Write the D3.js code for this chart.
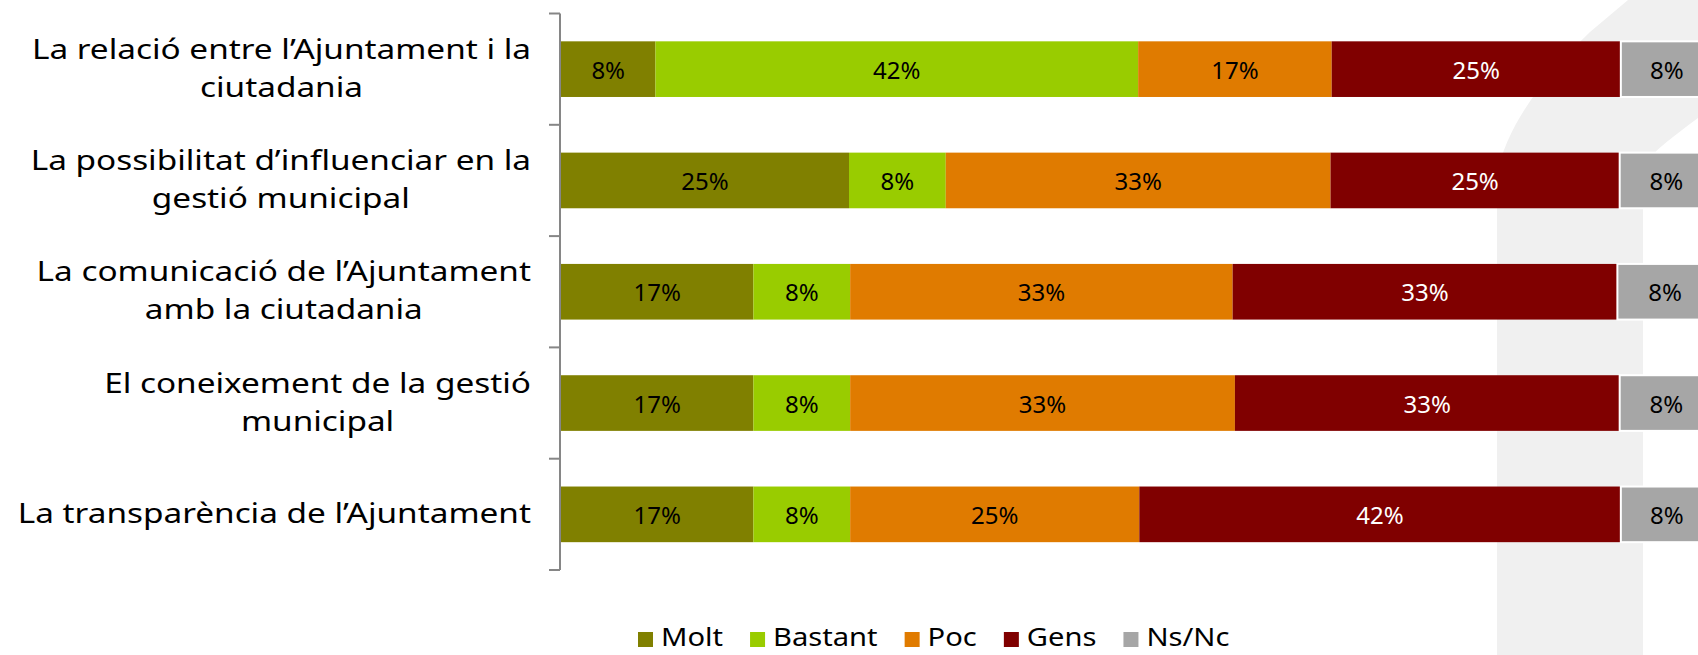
<!DOCTYPE html>
<html>
<head>
<meta charset="utf-8">
<script src="https://cdn.jsdelivr.net/npm/d3@7"></script>
<style>
  html, body { margin: 0; padding: 0; background: #fff; }
  svg { display: block; font-family: "Noto Sans", sans-serif; }
</style>
</head>
<body>
<svg id="chart" width="1698" height="655"></svg>
<script>
// ---- data ----
const categories = [
  "La relació entre l’Ajuntament i la\nciutadania",
  "La possibilitat d’influenciar en la\ngestió municipal",
  "La comunicació de l’Ajuntament\namb la ciutadania",
  "El coneixement de la gestió\nmunicipal",
  "La transparència de l’Ajuntament"
];
const seriesNames = ["Molt", "Bastant", "Poc", "Gens", "Ns/Nc"];
const molt    = [8.2, 25.0, 16.7, 16.7, 16.7];
const bastant = [41.9, 8.4, 8.4, 8.4, 8.4];
const poc     = [16.8, 33.4, 33.2, 33.4, 25.1];
const gens    = [25.1, 25.1, 33.4, 33.4, 41.8];
const nsnc    = [8.0, 8.1, 8.3, 8.1, 8.0];
const colors  = ["#808000", "#99CC00", "#E07B00", "#800000", "#A6A6A6"];
const labelColors = ["#000", "#000", "#000", "#fff", "#000"];

const table = categories.map((c, i) => ({
  cat: c, "Molt": molt[i], "Bastant": bastant[i], "Poc": poc[i], "Gens": gens[i], "Ns/Nc": nsnc[i]
}));

const svg = d3.select("#chart");

// faint background graphic (watermark) on the right
svg.append("path")
  .attr("d", "M1497,655 L1497,175 C1505,130 1540,80 1590,32 L1628,0 L1698,0 L1698,118 C1675,135 1655,150 1643,165 L1643,655 Z")
  .attr("fill", "#f0f0f0");

const y = d3.scaleBand().domain(categories).range([13.5, 570]).paddingInner(0.5).paddingOuter(0.25);
const x = d3.scaleLinear().domain([0, 100]).range([561, 1713]);

const stack = d3.stack().keys(seriesNames)(table);

const groups = svg.append("g").selectAll("g").data(stack).join("g")
  .attr("fill", (d, i) => colors[i]);

groups.selectAll("rect").data(d => d.map(v => ({v, key: d.key}))).join("rect")
  .attr("x", d => x(d.v[0]))
  .attr("y", d => y(d.v.data.cat))
  .attr("width", d => x(d.v[1]) - x(d.v[0]))
  .attr("height", y.bandwidth())
  .attr("stroke", d => d.key === "Ns/Nc" ? "#fff" : "none")
  .attr("stroke-width", 2);

// value labels
stack.forEach((s, si) => {
  svg.append("g").selectAll("text").data(s).join("text")
    .attr("x", d => (x(d[0]) + x(d[1])) / 2)
    .attr("y", d => y(d.data.cat) + y.bandwidth() / 2 + 9.5)
    .attr("text-anchor", "middle")
    .attr("font-size", 24)
    .attr("fill", labelColors[si])
    .text(d => Math.round(d[1] - d[0]) + "%");
});

// axis line and ticks
const step = y.step();
const boundaries = categories.map(c => y(c) - step * y.paddingOuter()).concat([y(categories[categories.length - 1]) + y.bandwidth() + step * y.paddingOuter()]);
const axis = svg.append("g").attr("stroke", "#868686").attr("stroke-width", 2);
axis.append("line").attr("x1", 560).attr("x2", 560).attr("y1", boundaries[0]).attr("y2", boundaries[boundaries.length - 1]);
axis.selectAll("line.tick").data(boundaries).join("line").attr("class", "tick")
  .attr("x1", 549).attr("x2", 560).attr("y1", d => d).attr("y2", d => d);

// category labels (wide geometric face approximated by horizontal stretch)
const labelRight = 531;
const lineH = 38;
const stretch = 1.19;
categories.forEach(c => {
  const lines = c.split("\n");
  const g = svg.append("g");
  const texts = lines.map(l => g.append("text").attr("font-size", 28).attr("fill", "#000").text(l));
  const widths = texts.map(t => t.node().getComputedTextLength() * stretch);
  const w = d3.max(widths);
  const cx = labelRight - w / 2;
  const cy = y(c) + y.bandwidth() / 2 + 8.5;
  texts.forEach((t, i) => {
    t.attr("x", cx).attr("text-anchor", "middle")
     .attr("textLength", widths[i]).attr("lengthAdjust", "spacingAndGlyphs")
     .attr("y", cy + (i - (lines.length - 1) / 2) * lineH);
  });
});

// legend
const legend = svg.append("g");
let lx = 638;
seriesNames.forEach((n, i) => {
  legend.append("rect").attr("x", lx).attr("y", 632).attr("width", 15).attr("height", 15).attr("fill", colors[i]);
  const t = legend.append("text").attr("x", lx + 23).attr("y", 646).attr("font-size", 26).attr("fill", "#000").text(n);
  const w = t.node().getComputedTextLength() * 1.12;
  t.attr("textLength", w).attr("lengthAdjust", "spacingAndGlyphs");
  lx += 23 + w + 27;
});
</script>
</body>
</html>
